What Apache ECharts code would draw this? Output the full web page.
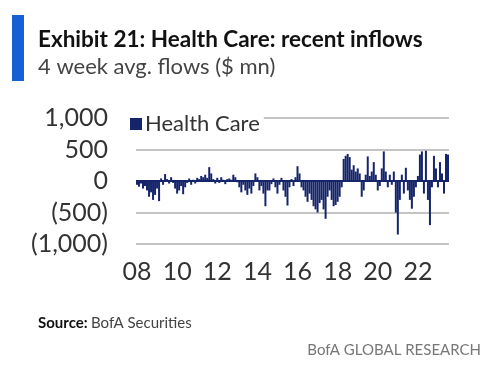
<!DOCTYPE html>
<html><head><meta charset="utf-8">
<script src="https://cdn.jsdelivr.net/npm/echarts@6/dist/echarts.min.js"></script>
<style>html,body{margin:0;padding:0;background:#fff}#c{width:500px;height:369px}</style>
</head><body><div id="c"></div>
<script>
// Each bar = 0.1 year, starting Jan 2008
var startYear = 2008;
var tickLabels = ['08','10','12','14','16','18','20','22'];
var yTickLabels = {'1000':'1,000','500':'500','0':'0','-500':'(500)','-1000':'(1,000)'};
var seriesName = 'Health Care';
var flows = [
  -60,-90,-40,-120,-80,-150,
  -250,-180,-300,-220,-120,-320,
  40,-60,110,30,-40,60,-30,
  -120,-200,-150,-80,-210,-100,
  -30,40,-60,20,-40,50,30,
  80,60,100,50,
  220,120,
  30,-40,50,-30,60,20,-50,30,
  40,20,100,60,-20,
  -100,-180,-60,-150,-220,-120,-200,-80,
  120,60,-150,-80,
  -200,-400,-150,
  -150,-50,40,-100,-200,-60,50,-150,-250,-390,-100,30,-80,60,235,120,
  -100,-150,-250,-330,-200,-300,-400,-450,-500,-350,-300,-450,-600,-250,-150,-300,-400,-380,-330,-250,-100,
  350,400,430,380,180,250,150,200,120,
  -250,-150,100,390,80,150,300,100,-150,-80,
  200,470,150,-100,100,-60,150,-500,-850,-300,
  100,-200,210,-150,-300,-440,-250,-100,80,420,
  470,-200,480,-300,-700,-100,400,200,-100,300,
  120,-200,430,420
];
var periods = flows.map(function(v,i){ return (startYear + i/10).toFixed(1); });

var font = 'Lato, "Open Sans", sans-serif';
var chart = echarts.init(document.getElementById('c'), null, {renderer:'canvas'});
chart.setOption({
  animation:false,
  backgroundColor:'#fff',
  graphic:[
    {type:'rect', shape:{x:12,y:15,width:12,height:66}, style:{fill:'#1560d4'}},
    {type:'text', left:38, top:28, style:{text:'Exhibit 21: Health Care: recent inflows', font:'bold 22.5px '+font, fill:'#111'}},
    {type:'text', left:38, top:56, style:{text:'4 week avg. flows ($ mn)', font:'22px '+font, fill:'#444'}},
    {type:'text', left:38, top:316, style:{text:'{b|Source:} {r|BofA Securities}', rich:{b:{font:'bold 15px '+font, fill:'#111'}, r:{font:'15px '+font, fill:'#444'}}}},
    {type:'text', right:19, top:343, style:{text:'BofA GLOBAL RESEARCH', font:'15px '+font, fill:'#777'}}
  ],
  legend:{
    left:126, top:111, data:[seriesName], icon:'rect', itemWidth:12, itemHeight:12, itemGap:6,
    backgroundColor:'#fff', padding:[2,4,2,4],
    textStyle:{fontFamily:font, fontSize:22, color:'#333', padding:[0,0,0,-2]}
  },
  grid:{left:136, right:51, top:118, bottom:125, containLabel:false},
  xAxis:{
    type:'category', data:periods, boundaryGap:true,
    axisLine:{show:false, onZero:false},
    axisTick:{show:false},
    axisLabel:{
      interval:function(i){ return i % 20 === 0; },
      formatter:function(v,i){ return tickLabels[Math.round(i/20)] || ''; },
      fontFamily:font, fontSize:25, color:'#333', margin:15
    },
    splitLine:{show:false}
  },
  yAxis:{
    type:'value', min:-1000, max:1000, interval:500,
    axisLine:{show:false}, axisTick:{show:false},
    axisLabel:{formatter:function(v){ return yTickLabels[String(v)]; }, fontFamily:font, fontSize:25, color:'#333', margin:28},
    splitLine:{lineStyle:{color:'#c4c4c4', width:2}}
  },
  series:[{
    name:seriesName, type:'bar', data:flows, barCategoryGap:'0%',
    itemStyle:{color:'#16256b'},
    markLine:{silent:true, symbol:['none','none'], label:{show:false},
      lineStyle:{color:'#16256b', width:2, type:'solid'}, data:[{yAxis:0}]}
  }]
});
</script></body></html>
